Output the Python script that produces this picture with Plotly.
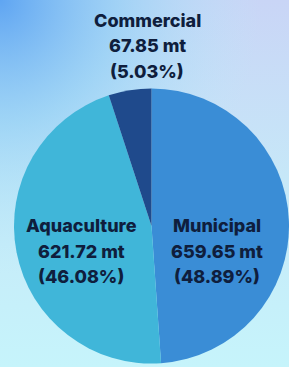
import base64
import plotly.graph_objects as go

categories = ["Municipal", "Aquaculture", "Commercial"]
values_mt = [659.65, 621.72, 67.85]
shares_pct = [48.89, 46.08, 5.03]
colors = ["#3a8dd6", "#40b6d9", "#1f4a8c"]

W, H = 289, 367

svg = f'''<svg xmlns="http://www.w3.org/2000/svg" width="{W}" height="{H}" viewBox="0 0 {W} {H}">
<defs>
<linearGradient id="v" x1="0" y1="0" x2="0" y2="1">
<stop offset="0" stop-color="#c9d5f6"/>
<stop offset="0.5" stop-color="#c6e8f8"/>
<stop offset="1" stop-color="#c6f4fb"/>
</linearGradient>
<radialGradient id="r" cx="0" cy="0" r="1" gradientUnits="objectBoundingBox" gradientTransform="scale(0.9,0.75)">
<stop offset="0" stop-color="#5fa5f2" stop-opacity="1"/>
<stop offset="0.45" stop-color="#8fd0f5" stop-opacity="0.7"/>
<stop offset="1" stop-color="#b8ecfa" stop-opacity="0"/>
</radialGradient>
</defs>
<rect width="{W}" height="{H}" fill="url(#v)"/>
<rect width="{W}" height="{H}" fill="url(#r)"/>
</svg>'''
bg_src = "data:image/svg+xml;base64," + base64.b64encode(svg.encode()).decode()

fig = go.Figure(go.Pie(
    labels=categories,
    values=values_mt,
    marker=dict(colors=colors, line=dict(width=0)),
    sort=False,
    direction="clockwise",
    rotation=0,
    textinfo="none",
    hoverinfo="label+value+percent",
    domain=dict(x=[14 / W, 1.0], y=[2 / H, 280 / H]),
    showlegend=False,
))

label_pos = {"Municipal": (217, 251), "Aquaculture": (81, 251), "Commercial": (147, 46)}
line_gap = 25.5
annotations = []
for cat, v, p in zip(categories, values_mt, shares_pct):
    x, y = label_pos[cat]
    lines = [cat, f"{v:.2f} mt", f"({p:.2f}%)"]
    for i, t in enumerate(lines):
        yy = y + (i - 1) * line_gap
        annotations.append(dict(
            x=x / W, y=1 - yy / H, xref="paper", yref="paper",
            text=t, showarrow=False, xanchor="center", yanchor="middle",
            font=dict(family="Inter", size=18, color="#0f1e3d", weight=800),
        ))

fig.update_layout(
    width=W, height=H,
    margin=dict(l=0, r=0, t=0, b=0),
    paper_bgcolor="#c8e6f8",
    plot_bgcolor="rgba(0,0,0,0)",
    annotations=annotations,
    images=[dict(source=bg_src, xref="paper", yref="paper", x=0, y=1,
                 sizex=1, sizey=1, xanchor="left", yanchor="top",
                 sizing="stretch", layer="below")],
)

fig.write_html("out.html", config={"displayModeBar": False},
               post_script="document.body.style.margin='0';document.body.style.overflow='hidden';")
